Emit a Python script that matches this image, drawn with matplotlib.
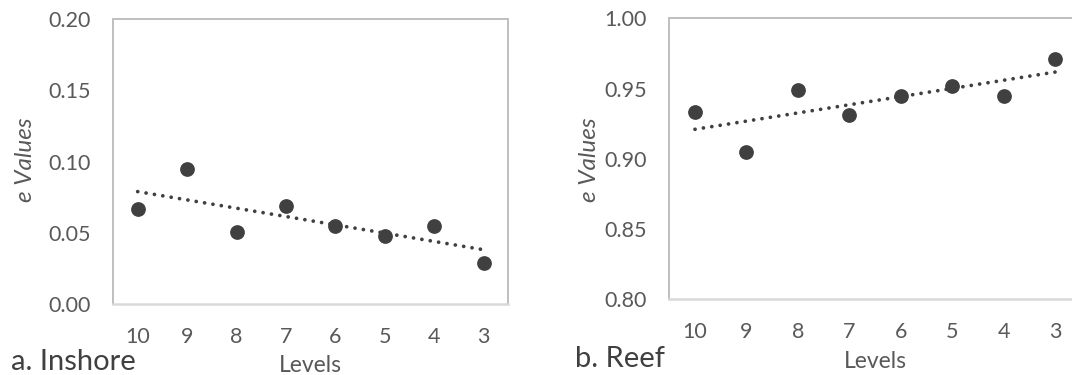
import numpy as np
import matplotlib
matplotlib.use("Agg")
import matplotlib.pyplot as plt

levels = ["10", "9", "8", "7", "6", "5", "4", "3"]
inshore = [0.067, 0.095, 0.051, 0.069, 0.055, 0.048, 0.055, 0.029]
reef = [0.933, 0.905, 0.949, 0.931, 0.945, 0.952, 0.945, 0.971]
inshore_ticks = [0.00, 0.05, 0.10, 0.15, 0.20]
reef_ticks = [0.80, 0.85, 0.90, 0.95, 1.00]

plt.rcParams['font.family'] = ['Lato', 'DejaVu Sans']

W, H = 1072, 375
fig = plt.figure(figsize=(W / 100, H / 100), dpi=100)

dark = "#404040"
tick_col = "#595959"


def px(x0, y0, x1, y1):
    return [x0 / W, 1 - y1 / H, (x1 - x0) / W, (y1 - y0) / H]


def panel(rect, vals, yticks, label, ylab_x, lab_x, lab_y, levels_y):
    ax = fig.add_axes(rect)
    x = np.arange(1, len(levels) + 1)
    ax.plot(x, vals, 'o', color=dark, ms=9.6, mec=dark, zorder=3, clip_on=False)
    k, b = np.polyfit(x, vals, 1)
    ax.plot(x, k * x + b, color=dark, lw=2.7, linestyle=(0, (0.01, 2.25)),
            dash_capstyle='round', zorder=2)
    ax.set_xlim(0.5, len(levels) + 0.5)
    ax.set_ylim(yticks[0], yticks[-1])
    ax.set_xticks(x)
    ax.set_xticklabels(levels)
    ax.set_yticks(yticks)
    ax.set_yticklabels([f"{t:.2f}" for t in yticks])
    ax.tick_params(axis='both', length=0, labelsize=15.5, labelcolor=tick_col)
    ax.tick_params(axis='x', pad=16)
    ax.tick_params(axis='y', pad=16)
    for s in ['left', 'top', 'right']:
        ax.spines[s].set_color("#bfbfbf")
        ax.spines[s].set_linewidth(1.4)
    ax.spines['bottom'].set_color("#d9d9d9")
    ax.spines['bottom'].set_linewidth(1.8)
    fig.text(ylab_x / W, 1 - 160 / H, "e Values", rotation=90, style='italic',
             fontsize=17.5, color=tick_col, ha='center', va='center')
    cx = (rect[0] + rect[0] + rect[2]) / 2
    fig.text(cx, 1 - levels_y / H, "Levels", fontsize=16.5, color=tick_col,
             ha='center', va='center')
    fig.text(lab_x / W, 1 - lab_y / H, label, fontsize=21, color=dark,
             ha='left', va='center')
    return ax


panel(px(113, 19, 508.3, 304.3), inshore, inshore_ticks, "a. Inshore",
      26, 11, 362, 366)
panel(px(669.3, 18.3, 1081, 299.3), reef, reef_ticks, "b. Reef",
      589, 575, 359, 361)

fig.savefig("out.png", dpi=100)
